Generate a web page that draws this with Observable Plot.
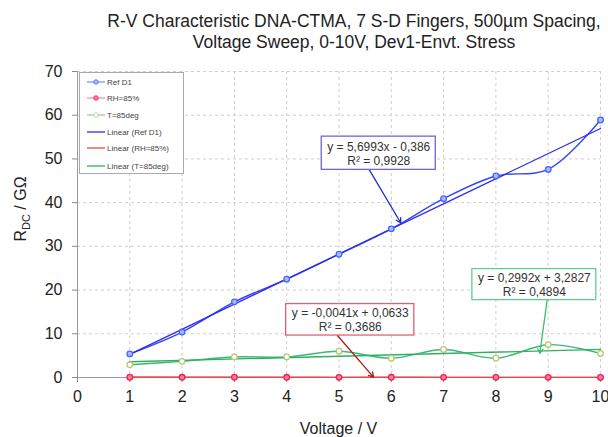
<!DOCTYPE html>
<html>
<head>
<meta charset="utf-8">
<script src="https://cdn.jsdelivr.net/npm/d3@7"></script>
<script src="https://cdn.jsdelivr.net/npm/@observablehq/plot@0.6"></script>
<style>
  body { margin: 0; background: #fff; font-family: "Liberation Sans", Arial, sans-serif; }
  #title { height: 58px; box-sizing: border-box; padding-top: 11px; padding-left: 100px; width: 608px;
           text-align: center; font-size: 17.5px; line-height: 21px; color: #222; white-space: nowrap; }
</style>
</head>
<body>
<div id="title">R-V Characteristic DNA-CTMA, 7 S-D Fingers, 500µm Spacing,<br>Voltage Sweep, 0-10V, Dev1-Envt. Stress</div>
<div id="chart"></div>
<script>
// ---- data ----
const volts = [1, 2, 3, 4, 5, 6, 7, 8, 9, 10];
const refD1 = [5.4, 10.4, 17.3, 22.5, 28.2, 34.0, 40.9, 46.1, 47.6, 58.9];
const rh85  = [0.06, 0.05, 0.06, 0.05, 0.04, 0.05, 0.03, 0.03, 0.03, 0.02];
const t85   = [2.9, 3.7, 4.7, 4.7, 6.0, 4.4, 6.4, 4.4, 7.5, 5.5];
const seriesNames = ["Ref D1", "RH=85%", "T=85deg"];
const legendNames = ["Ref D1", "RH=85%", "T=85deg", "Linear (Ref D1)", "Linear (RH=85%)", "Linear (T=85deg)"];
const xTicks = [0, 1, 2, 3, 4, 5, 6, 7, 8, 9, 10];
const yTicks = [0, 10, 20, 30, 40, 50, 60, 70];
const fitTexts = ["y = 5,6993x - 0,386\nR² = 0,9928", "y = -0,0041x + 0,0633\nR² = 0,3686", "y = 0,2992x + 3,2827\nR² = 0,4894"];

// ---- styles / annotation placement (data units) ----
const lineCol  = ["#3346f2", "#f0506e", "#3cb878"];
const trendCol = ["#2a2af5", "#e04a4a", "#2fb060"];
const mkStroke = ["#4466ff", "#ee2255", "#b8c878"];
const mkFill   = ["#a8bbff", "#ff7aa0", "#ffffff"];
const boxStroke = ["#7060ea", "#e06070", "#5fcf8f"];
const arrowCol  = ["#1f2fd0", "#b01818", "#3bbf6b"];
const boxes = [
  {x1: 4.67, x2: 6.85, y1: 47.5, y2: 55.1, ax1: 5.58, ay1: 47.5, ax2: 6.18, ay2: 35.4},
  {x1: 3.99, x2: 6.44, y1: 9.6, y2: 16.8, ax1: 4.97, ay1: 9.6, ax2: 5.66, ay2: 0.1},
  {x1: 7.55, x2: 9.92, y1: 17.7, y2: 24.8, ax1: 8.98, ay1: 17.7, ax2: 8.84, ay2: 5.5}
];

const rows = [];
[refD1, rh85, t85].forEach((arr, s) => arr.forEach((v, i) => rows.push({s, x: volts[i], y: v})));
const bySeries = s => rows.filter(d => d.s === s);
const annos = boxes.map((b, i) => ({...b, i, text: fitTexts[i]}));

const marks = [
  Plot.gridX(xTicks.filter(t => t > 0), {stroke: "#cfcfcf", strokeOpacity: 1, strokeDasharray: "3,3"}),
  Plot.gridY(yTicks.filter(t => t > 0), {stroke: "#cfcfcf", strokeOpacity: 1, strokeDasharray: "3,3"}),
  Plot.axisX(xTicks, {tickSize: 5, tickPadding: 8, stroke: "#888", fill: "#222", fontSize: 16, label: null}),
  Plot.axisY(yTicks, {tickSize: 5, tickPadding: 10, stroke: "#888", fill: "#222", fontSize: 16, label: null}),
  Plot.ruleX([0], {stroke: "#999"}),
  Plot.ruleY([0], {stroke: "#999"})
];
[0, 1, 2].forEach(s => {
  marks.push(Plot.line(bySeries(s), {x: "x", y: "y", stroke: lineCol[s], strokeWidth: 1.4, curve: "catmull-rom"}));
  marks.push(Plot.linearRegressionY(bySeries(s), {x: "x", y: "y", stroke: trendCol[s], strokeWidth: 1.3, ci: 0}));
});
[0, 1, 2].forEach(s => {
  marks.push(Plot.dot(bySeries(s), {x: "x", y: "y", r: 2.8, stroke: mkStroke[s], fill: mkFill[s], strokeWidth: 1.3}));
});
marks.push(
  Plot.arrow(annos, {x1: "ax1", y1: "ay1", x2: "ax2", y2: "ay2", stroke: d => arrowCol[d.i], strokeWidth: 1.3, headLength: 6, bend: 0}),
  Plot.rect(annos, {x1: "x1", x2: "x2", y1: "y1", y2: "y2", fill: "#fff", stroke: d => boxStroke[d.i], strokeWidth: 1.3}),
  Plot.text(annos, {x: d => (d.x1 + d.x2) / 2, y: d => (d.y1 + d.y2) / 2, text: "text", fontSize: 12, lineHeight: 1.15, fill: "#333"})
);

const plot = Plot.plot({
  width: 608, height: 379,
  marginLeft: 77, marginRight: 8, marginTop: 13, marginBottom: 60,
  style: {fontFamily: "'Liberation Sans', Arial, sans-serif", fontSize: "16px", background: "#fff", color: "#222"},
  x: {domain: [0, 10]},
  y: {domain: [0, 70]},
  marks
});
document.getElementById("chart").appendChild(plot);

// ---- axis titles & legend ----
const svg = d3.select(plot);
const xs = plot.scale("x");
const xMid = (xs.apply(0) + xs.apply(10)) / 2;
svg.append("text").attr("x", xMid).attr("y", 376).attr("text-anchor", "middle")
  .attr("font-size", 16).attr("fill", "#222").text("Voltage / V");
const yl = svg.append("text").attr("transform", "translate(26,151) rotate(-90)")
  .attr("text-anchor", "middle").attr("font-size", 16).attr("fill", "#222");
yl.append("tspan").text("R");
yl.append("tspan").attr("font-size", 11).attr("dy", 4).text("DC");
yl.append("tspan").attr("dy", -4).text(" / GΩ");

const lg = svg.append("g").attr("text-anchor", "start");
lg.append("rect").attr("x", 79.5).attr("y", 14.5).attr("width", 104).attr("height", 101)
  .attr("fill", "#fff").attr("stroke", "#aaa");
const legCols = [lineCol[0], lineCol[1], lineCol[2], trendCol[0], trendCol[1], trendCol[2]];
const legY = [24, 40, 57, 74, 90, 108];
legendNames.forEach((name, i) => {
  const y = legY[i];
  lg.append("line").attr("x1", 87).attr("x2", 105).attr("y1", y).attr("y2", y)
    .attr("stroke", legCols[i]).attr("stroke-width", 1.3).attr("stroke-opacity", i < 3 ? 0.6 : 1);
  if (i < 3) lg.append("circle").attr("cx", 96).attr("cy", y).attr("r", 2.3)
    .attr("fill", mkFill[i]).attr("stroke", mkStroke[i]).attr("stroke-width", 1).attr("stroke-opacity", 0.8);
  lg.append("text").attr("x", 107).attr("y", y).attr("dy", "0.35em").attr("font-size", 8)
    .attr("text-anchor", "start").attr("fill", "#444").text(name);
});
</script>
</body>
</html>
